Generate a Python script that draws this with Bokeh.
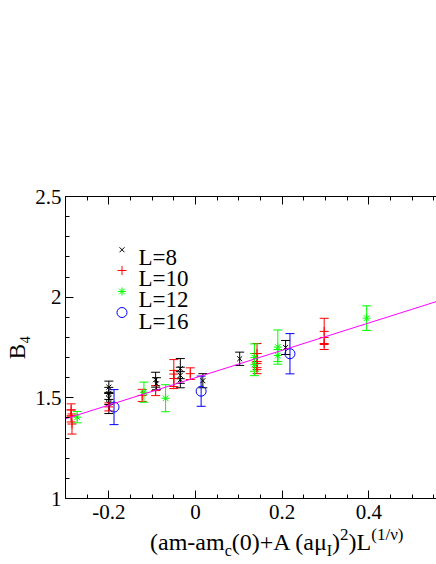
from bokeh.plotting import figure
from bokeh.layouts import column
from bokeh.models import (Range1d, LinearAxis, FixedTicker, Whisker, TeeHead,
                          ColumnDataSource, Div)
from bokeh.core.properties import value
from bokeh.embed import file_html
from bokeh.resources import INLINE

# ---------------- data ----------------
x8 = [-0.200, -0.200, -0.200, -0.200, -0.092, -0.090, -0.035, -0.035, -0.035, 0.017, 0.102, 0.208]
y8 = [1.553, 1.522, 1.497, 1.472, 1.590, 1.570, 1.645, 1.612, 1.590, 1.585, 1.694, 1.750]
e8 = [0.030, 0.030, 0.030, 0.050, 0.037, 0.030, 0.050, 0.040, 0.040, 0.035, 0.033, 0.035]

x10 = [-0.287, -0.287, -0.285, -0.200, -0.123, -0.092, -0.050, -0.050, -0.012, 0.142, 0.142, 0.142, 0.297, 0.297]
y10 = [1.440, 1.410, 1.370, 1.455, 1.512, 1.536, 1.618, 1.596, 1.620, 1.720, 1.680, 1.650, 1.830, 1.770]
e10 = [0.030, 0.030, 0.050, 0.020, 0.030, 0.025, 0.072, 0.040, 0.029, 0.050, 0.040, 0.030, 0.065, 0.030]

x12 = [-0.273, -0.119, -0.069, 0.136, 0.136, 0.190, 0.190, 0.395]
y12 = [1.404, 1.528, 1.498, 1.700, 1.665, 1.752, 1.710, 1.896]
e12 = [0.028, 0.050, 0.067, 0.068, 0.055, 0.085, 0.030, 0.061]

x16 = [-0.188, 0.013, 0.218]
y16 = [1.454, 1.533, 1.719]
e16 = [0.087, 0.075, 0.100]

fit_x = [-0.3, 0.6]
fit_y = [1.396, 2.008]

legend_labels = ["L=8", "L=10", "L=12", "L=16"]
x_ticks = [-0.2, 0.0, 0.2, 0.4]
x_tick_labels = ["-0.2", "0", "0.2", "0.4"]
y_ticks = [1.0, 1.5, 2.0, 2.5]
y_tick_labels = ["1", "1.5", "2", "2.5"]
y_title = "B\u2084"

# ---------------- geometry ----------------
W, H = 436, 528          # figure; the x-axis title Div sits below it
DIV_H = 564 - H
XMIN, XMAX = -0.3, 0.5562
YMIN, YMAX = 1.0, 2.5
FL, FR, FT, FB = 65, 436, 196, 498   # frame in canvas pixels

def px2x(px):
    return XMIN + (px - FL) / (FR - FL) * (XMAX - XMIN)

def py2y(py):
    return YMIN + (FB - py) / (FB - FT) * (YMAX - YMIN)

FONT = "Liberation Serif"

p = figure(width=W, height=H, output_backend="svg", toolbar_location=None,
           x_range=Range1d(XMIN, XMAX), y_range=Range1d(YMIN, YMAX),
           x_axis_location=None, y_axis_location=None,
           min_border_left=FL, min_border_right=W - FR,
           min_border_top=FT, min_border_bottom=H - FB)
p.outline_line_color = None
p.grid.visible = False
p.background_fill_color = "white"
p.border_fill_color = "white"

x_minor = [round(-0.3 + 0.05 * i, 4) for i in range(0, 19)]
y_minor = [round(1.0 + 0.1 * i, 4) for i in range(0, 16)]


def style_axis(ax, labels):
    ax.axis_line_color = "black"
    ax.axis_line_width = 1
    ax.major_tick_line_color = "black"
    ax.minor_tick_line_color = "black"
    ax.major_tick_in = 8
    ax.major_tick_out = 0
    ax.minor_tick_in = 4
    ax.minor_tick_out = 0
    ax.major_label_text_font = FONT
    ax.major_label_text_font_size = "21px"
    ax.major_label_text_color = "black"
    if labels is None:
        ax.major_label_text_color = None
    else:
        ax.major_label_overrides = labels


xb = LinearAxis(ticker=FixedTicker(ticks=x_ticks, minor_ticks=x_minor))
style_axis(xb, {t: s for t, s in zip(x_ticks, x_tick_labels)})
xb.major_label_standoff = 6
p.add_layout(xb, "below")

xt = LinearAxis(ticker=FixedTicker(ticks=x_ticks, minor_ticks=x_minor))
style_axis(xt, None)
p.add_layout(xt, "above")

yl = LinearAxis(ticker=FixedTicker(ticks=y_ticks, minor_ticks=y_minor))
style_axis(yl, {t: s for t, s in zip(y_ticks, y_tick_labels)})
yl.major_label_standoff = 4
yl.axis_label = y_title
yl.axis_label_text_font = FONT
yl.axis_label_text_font_size = "23px"
yl.axis_label_text_font_style = "normal"
yl.axis_label_text_color = "black"
yl.axis_label_standoff = 2
p.add_layout(yl, "left")

# ---------------- series ----------------
series = [
    (x8, y8, e8, "black", "x", 7),
    (x10, y10, e10, "#ff0000", "cross", 9),
    (x12, y12, e12, "#00ff00", "asterisk", 8),
    (x16, y16, e16, "#0000ff", "circle", 10),
]

for xs, ys, es, col, mk, sz in series:
    src = ColumnDataSource(dict(x=xs, y=ys,
                                lo=[a - b for a, b in zip(ys, es)],
                                hi=[a + b for a, b in zip(ys, es)]))
    w = Whisker(source=src, base="x", lower="lo", upper="hi", dimension="height",
                line_color=col, line_width=1,
                lower_head=TeeHead(size=9, line_color=col, line_width=1),
                upper_head=TeeHead(size=9, line_color=col, line_width=1))
    p.add_layout(w)
    p.scatter("x", "y", source=src, marker=mk, size=sz, line_color=col,
              fill_color=None, line_width=1)

p.line(fit_x, fit_y, line_color="#ff00ff", line_width=1)

# ---------------- legend ----------------
leg_marker_px = 121.5
leg_text_px = 138
leg_rows_py = [249.3, 270.0, 291.0, 312.0]
leg_base_py = [257.0, 278.0, 299.3, 320.5]
for (xs, ys, es, col, mk, sz), lab, rp, bp in zip(series, legend_labels, leg_rows_py, leg_base_py):
    p.scatter([px2x(leg_marker_px)], [py2y(rp)], marker=mk, size=sz,
              line_color=col, fill_color=None, line_width=1)
    p.text([px2x(leg_text_px)], [py2y(bp)], text=[lab], text_font=value(FONT),
           text_font_size="23px", text_color="black",
           text_baseline="alphabetic", text_align="left")

# ---------------- x-axis title (rich text) ----------------
sub = "font-size:16px; line-height:0; vertical-align:-6px;"
sup = "font-size:17px; line-height:0; vertical-align:10px;"
x_title_html = (
    f'<div style="font-family:\'{FONT}\'; font-size:24px; line-height:24px; '
    f'padding-left:150px; padding-top:2px; margin:0; white-space:nowrap; color:black;">'
    f'(am-am<span style="{sub}">c</span>(0)+A (a\u03bc<span style="{sub}">I</span>)'
    f'<span style="{sup}">2</span>)L<span style="{sup}">(1/\u03bd)</span></div>'
)
div_x = Div(text=x_title_html, width=W, height=DIV_H, margin=0)

layout = column(p, div_x, spacing=0)

open("out.html", "w").write(file_html(layout, INLINE))
